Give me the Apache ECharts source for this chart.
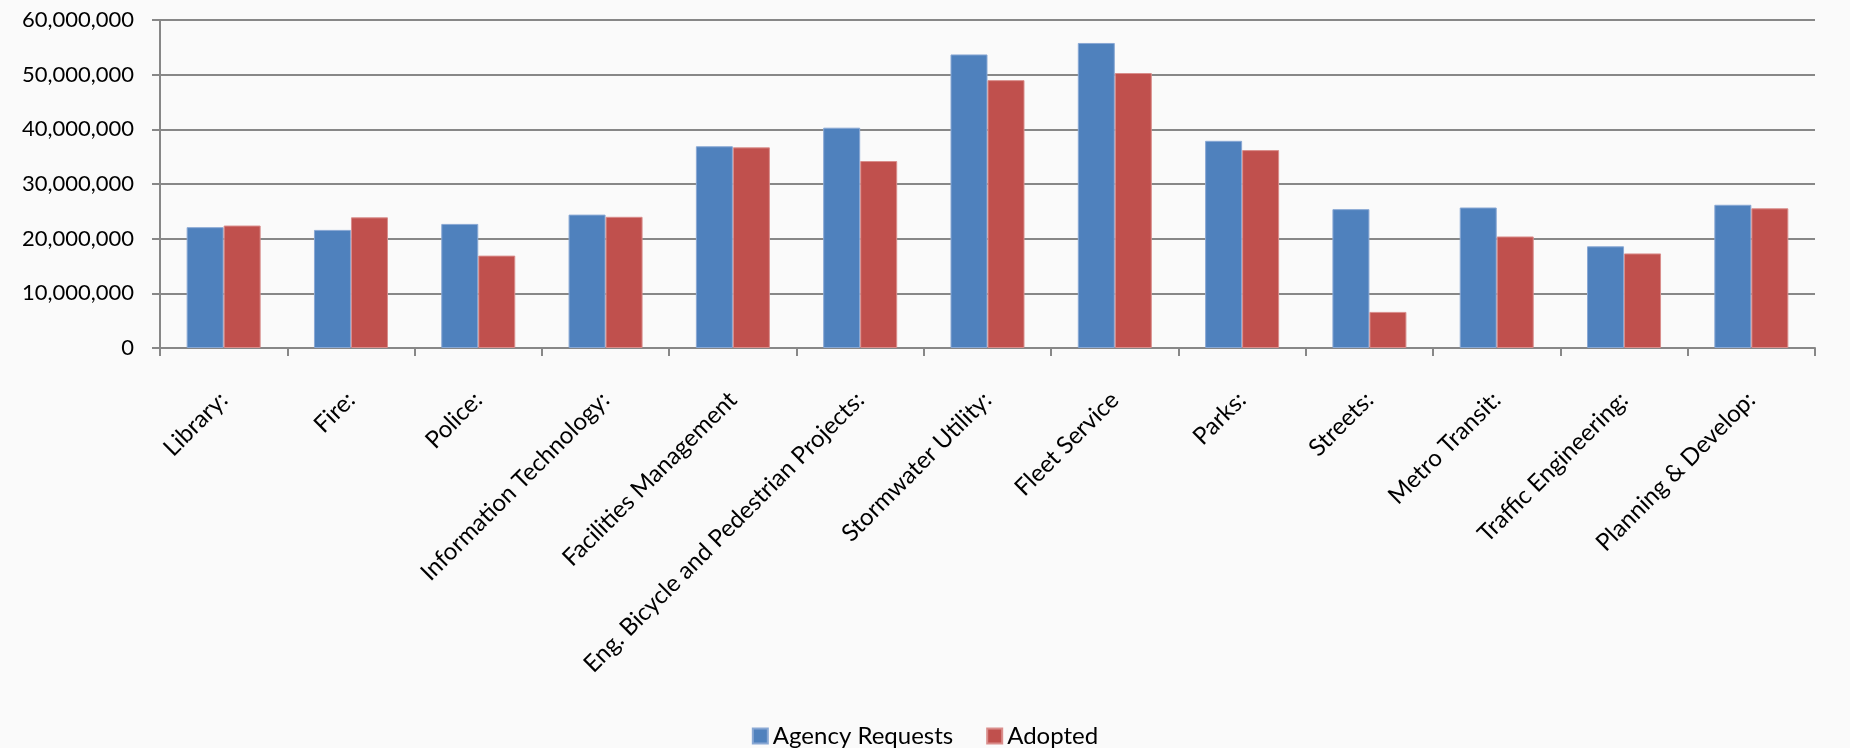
<!DOCTYPE html>
<html>
<head>
<meta charset="utf-8">
<title>Agency Requests vs Adopted</title>
<script src="https://cdn.jsdelivr.net/npm/echarts@6/dist/echarts.min.js"></script>
<style>
  html, body { margin: 0; padding: 0; background: #fafafa; }
  #chart { width: 1850px; height: 748px; }
</style>
</head>
<body>
<div id="chart"></div>
<script>
// Departments along the category axis
const departments = [
  'Library:', 'Fire:', 'Police:', 'Information Technology:', 'Facilities Management',
  'Eng. Bicycle and Pedestrian Projects:', 'Stormwater Utility:', 'Fleet Service',
  'Parks:', 'Streets:', 'Metro Transit:', 'Traffic Engineering:', 'Planning & Develop:'
];

// Budget amounts per department
const agencyRequests = [
  22100000, 21600000, 22700000, 24400000, 36900000, 40300000, 53700000,
  55800000, 37900000, 25400000, 25700000, 18600000, 26200000
];
const adopted = [
  22400000, 23900000, 16900000, 24000000, 36700000, 34200000, 49000000,
  50300000, 36200000, 6600000, 20400000, 17300000, 25550000
];

const seriesNames = ['Agency Requests', 'Adopted'];

const FONT = 'Lato, "Open Sans", sans-serif';
const gridColor = '#878787';

const chart = echarts.init(document.getElementById('chart'));

function withCommas(v) {
  return String(v).replace(/\B(?=(\d{3})+(?!\d))/g, ',');
}

chart.setOption({
  backgroundColor: '#fafafa',
  animation: false,
  grid: { left: 160, right: 35, top: 20, bottom: 400, containLabel: false },
  legend: {
    top: 719,
    left: 'center',
    itemWidth: 15,
    itemHeight: 15,
    itemGap: 33,
    icon: 'rect',
    textStyle: { fontFamily: FONT, fontSize: 24, color: '#000' },
    data: seriesNames
  },
  xAxis: {
    type: 'category',
    data: departments,
    axisLine: { lineStyle: { color: gridColor, width: 2 } },
    axisTick: { show: true, length: 8, lineStyle: { color: gridColor, width: 2 } },
    axisLabel: {
      interval: 0,
      rotate: 45,
      margin: 48,
      fontFamily: FONT,
      fontSize: 24,
      color: '#000'
    }
  },
  yAxis: {
    type: 'value',
    min: 0,
    max: 60000000,
    interval: 10000000,
    axisLine: { show: true, lineStyle: { color: gridColor, width: 2 } },
    axisTick: { show: true, length: 8, lineStyle: { color: gridColor, width: 2 } },
    splitLine: { lineStyle: { color: gridColor, width: 2 } },
    axisLabel: {
      margin: 26,
      fontFamily: FONT,
      fontSize: 22,
      color: '#000',
      formatter: withCommas
    }
  },
  series: [
    {
      name: seriesNames[0],
      type: 'bar',
      data: agencyRequests,
      barWidth: 37,
      barGap: '0%',
      itemStyle: { color: '#4F81BD', borderColor: '#89a8d4', borderWidth: 1 }
    },
    {
      name: seriesNames[1],
      type: 'bar',
      data: adopted,
      barWidth: 37,
      barGap: '0%',
      itemStyle: { color: '#C0504D', borderColor: '#d98d8b', borderWidth: 1 }
    }
  ]
});
</script>
</body>
</html>
